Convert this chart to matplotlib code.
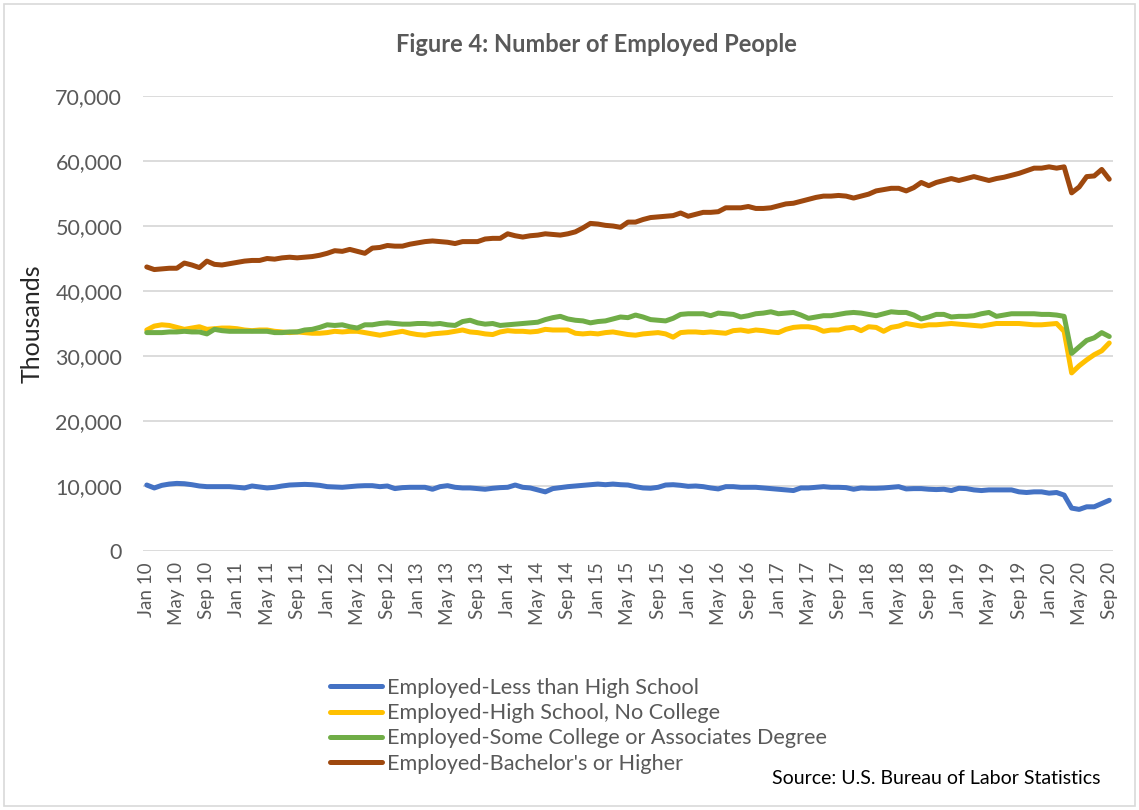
import matplotlib
matplotlib.use("Agg")
import matplotlib.pyplot as plt
from matplotlib.patches import Rectangle
import numpy as np

plt.rcParams['font.family'] = ['Lato', 'DejaVu Sans']

title = "Figure 4: Number of Employed People"
months = ["Jan", "Feb", "Mar", "Apr", "May", "Jun", "Jul", "Aug", "Sep", "Oct", "Nov", "Dec"]
dates = [f"{months[i % 12]} {10 + i // 12}" for i in range(129)]  # Jan 10 .. Sep 20

less_hs = [
    10.15, 9.7, 10.1, 10.3, 10.4, 10.35, 10.2, 10.0, 9.9, 9.9,
    9.9, 9.9, 9.8, 9.7, 10.0, 9.85, 9.7, 9.8, 10.0, 10.15,
    10.2, 10.25, 10.2, 10.1, 9.9, 9.85, 9.8, 9.9, 10.0, 10.05,
    10.05, 9.9, 10.0, 9.6, 9.75, 9.8, 9.8, 9.8, 9.5, 9.9,
    10.05, 9.8, 9.7, 9.7, 9.6, 9.5, 9.65, 9.75, 9.8, 10.15,
    9.8, 9.7, 9.4, 9.1, 9.6, 9.75, 9.9, 10.0, 10.1, 10.2,
    10.3, 10.2, 10.3, 10.2, 10.15, 9.9, 9.7, 9.65, 9.8, 10.15,
    10.2, 10.1, 9.95, 10.0, 9.9, 9.7, 9.55, 9.9, 9.9, 9.8,
    9.8, 9.8, 9.7, 9.6, 9.5, 9.4, 9.3, 9.7, 9.7, 9.8,
    9.9, 9.8, 9.8, 9.75, 9.5, 9.7, 9.65, 9.65, 9.7, 9.8,
    9.9, 9.55, 9.6, 9.6, 9.5, 9.45, 9.5, 9.3, 9.65, 9.6,
    9.4, 9.3, 9.4, 9.4, 9.4, 9.4, 9.1, 9.0, 9.1, 9.1,
    8.9, 9.0, 8.6, 6.6, 6.4, 6.8, 6.8, 7.3, 7.8,
]

hs_no_college = [
    34.0, 34.6, 34.8, 34.7, 34.4, 34.1, 34.3, 34.5, 34.1, 34.2,
    34.3, 34.3, 34.2, 34.0, 33.9, 34.0, 34.0, 33.8, 33.7, 33.6,
    33.7, 33.6, 33.5, 33.5, 33.6, 33.8, 33.7, 33.8, 33.8, 33.6,
    33.4, 33.2, 33.4, 33.6, 33.8, 33.5, 33.3, 33.2, 33.4, 33.5,
    33.6, 33.8, 34.0, 33.7, 33.6, 33.4, 33.3, 33.7, 33.9, 33.8,
    33.8, 33.7, 33.8, 34.1, 34.0, 34.0, 34.0, 33.5, 33.4, 33.5,
    33.4, 33.6, 33.7, 33.5, 33.3, 33.2, 33.4, 33.5, 33.6, 33.4,
    32.9, 33.6, 33.7, 33.7, 33.6, 33.7, 33.6, 33.5, 33.9, 34.0,
    33.8, 34.0, 33.9, 33.7, 33.6, 34.1, 34.4, 34.5, 34.5, 34.3,
    33.8, 34.0, 34.0, 34.3, 34.4, 33.9, 34.5, 34.4, 33.8, 34.4,
    34.6, 35.0, 34.8, 34.6, 34.8, 34.8, 34.9, 35.0, 34.9, 34.8,
    34.7, 34.6, 34.8, 35.0, 35.0, 35.0, 35.0, 34.9, 34.8, 34.8,
    34.9, 35.0, 33.8, 27.4, 28.5, 29.4, 30.2, 30.8, 32.0,
]

some_college = [
    33.6, 33.6, 33.6, 33.7, 33.7, 33.8, 33.7, 33.7, 33.4, 34.1,
    33.9, 33.8, 33.8, 33.8, 33.8, 33.8, 33.8, 33.6, 33.6, 33.7,
    33.7, 34.0, 34.1, 34.4, 34.8, 34.7, 34.8, 34.5, 34.3, 34.8,
    34.8, 35.0, 35.1, 35.0, 34.9, 34.9, 35.0, 35.0, 34.9, 35.0,
    34.8, 34.7, 35.3, 35.5, 35.1, 34.9, 35.0, 34.7, 34.8, 34.9,
    35.0, 35.1, 35.2, 35.6, 35.9, 36.1, 35.7, 35.5, 35.4, 35.1,
    35.3, 35.4, 35.7, 36.0, 35.9, 36.3, 36.0, 35.6, 35.5, 35.4,
    35.8, 36.4, 36.5, 36.5, 36.5, 36.2, 36.6, 36.5, 36.4, 36.0,
    36.2, 36.5, 36.6, 36.8, 36.5, 36.6, 36.7, 36.3, 35.8, 36.0,
    36.2, 36.2, 36.4, 36.6, 36.7, 36.6, 36.4, 36.2, 36.5, 36.8,
    36.7, 36.7, 36.3, 35.7, 36.0, 36.4, 36.4, 36.0, 36.1, 36.1,
    36.2, 36.5, 36.7, 36.1, 36.3, 36.5, 36.5, 36.5, 36.5, 36.4,
    36.4, 36.3, 36.1, 30.4, 31.4, 32.4, 32.8, 33.6, 33.0,
]

bachelors = [
    43.7, 43.3, 43.4, 43.5, 43.5, 44.3, 44.0, 43.6, 44.6, 44.1,
    44.0, 44.2, 44.4, 44.6, 44.7, 44.7, 45.0, 44.9, 45.1, 45.2,
    45.1, 45.2, 45.3, 45.5, 45.8, 46.2, 46.1, 46.4, 46.1, 45.8,
    46.6, 46.7, 47.0, 46.9, 46.9, 47.2, 47.4, 47.6, 47.7, 47.6,
    47.5, 47.3, 47.6, 47.6, 47.6, 48.0, 48.1, 48.1, 48.8, 48.5,
    48.3, 48.5, 48.6, 48.8, 48.7, 48.6, 48.8, 49.1, 49.7, 50.4,
    50.3, 50.1, 50.0, 49.8, 50.6, 50.6, 51.0, 51.3, 51.4, 51.5,
    51.6, 52.0, 51.5, 51.8, 52.1, 52.1, 52.2, 52.8, 52.8, 52.8,
    53.0, 52.7, 52.7, 52.8, 53.1, 53.4, 53.5, 53.8, 54.1, 54.4,
    54.6, 54.6, 54.7, 54.6, 54.3, 54.6, 54.9, 55.4, 55.6, 55.8,
    55.8, 55.4, 55.9, 56.7, 56.2, 56.7, 57.0, 57.3, 57.0, 57.3,
    57.6, 57.3, 57.0, 57.3, 57.5, 57.8, 58.1, 58.5, 58.9, 58.9,
    59.1, 58.9, 59.1, 55.1, 56.0, 57.6, 57.7, 58.7, 57.2,
]

series_names = [
    "Employed-Less than High School",
    "Employed-High School, No College",
    "Employed-Some College or Associates Degree",
    "Employed-Bachelor's or Higher",
]
series_values = [less_hs, hs_no_college, some_college, bachelors]
colors = ["#4472C4", "#FFC000", "#70AD47", "#9E480E"]

W, H = 1139, 810
fig = plt.figure(figsize=(W / 100, H / 100), dpi=100)
fig.patch.set_facecolor("white")
fig.add_artist(Rectangle((4 / W, 4 / H), 1 - 8 / W, 1 - 8 / H, transform=fig.transFigure,
                         fill=False, edgecolor="#d9d9d9", linewidth=1.2))

ax = fig.add_axes([143 / W, 1 - 551 / H, 970 / W, 455 / H])
x = np.arange(len(dates))
handles = []
for name, vals, c in zip(series_names, series_values, colors):
    h, = ax.plot(x, np.array(vals) * 1000, color=c, linewidth=3.6, label=name,
                 solid_joinstyle="round", solid_capstyle="round")
    handles.append(h)

ax.set_xlim(-0.5, len(dates) - 0.5)
ax.set_ylim(0, 70000)
ax.set_yticks(np.arange(0, 70001, 10000))
ax.yaxis.set_major_formatter(matplotlib.ticker.FuncFormatter(lambda v, p: f"{int(v):,}"))
ax.grid(axis="y", color="#d9d9d9", linewidth=1.3)
ax.set_axisbelow(True)
for s in ax.spines.values():
    s.set_visible(False)
ax.tick_params(axis="y", length=0, labelsize=15.5, labelcolor="#595959", pad=15)
tick_pos = x[::4]
ax.set_xticks(tick_pos)
ax.set_xticklabels([dates[i] for i in tick_pos], rotation=90, fontsize=13.5, color="#595959")
ax.tick_params(axis="x", length=0, pad=8)
ax.set_ylabel("Thousands", fontsize=18, color="#262626")
ax.yaxis.set_label_coords(-0.102, 0.5)

fig.text(596 / W, 1 - 45 / H, title, ha="center", va="center", fontsize=17,
         fontweight="bold", color="#595959")

fig.legend(handles=handles, labels=series_names, loc="upper left",
           bbox_to_anchor=(330 / W, 1 - 678 / H), frameon=False, fontsize=15.6,
           labelcolor="#595959", handlelength=2.4, handletextpad=0.22,
           labelspacing=0.24, borderaxespad=0, borderpad=0)

fig.text(1100 / W, 1 - 778 / H, "Source: U.S. Bureau of Labor Statistics",
         ha="right", va="center", fontsize=14, color="#000000")

fig.savefig("out.png", dpi=100)
